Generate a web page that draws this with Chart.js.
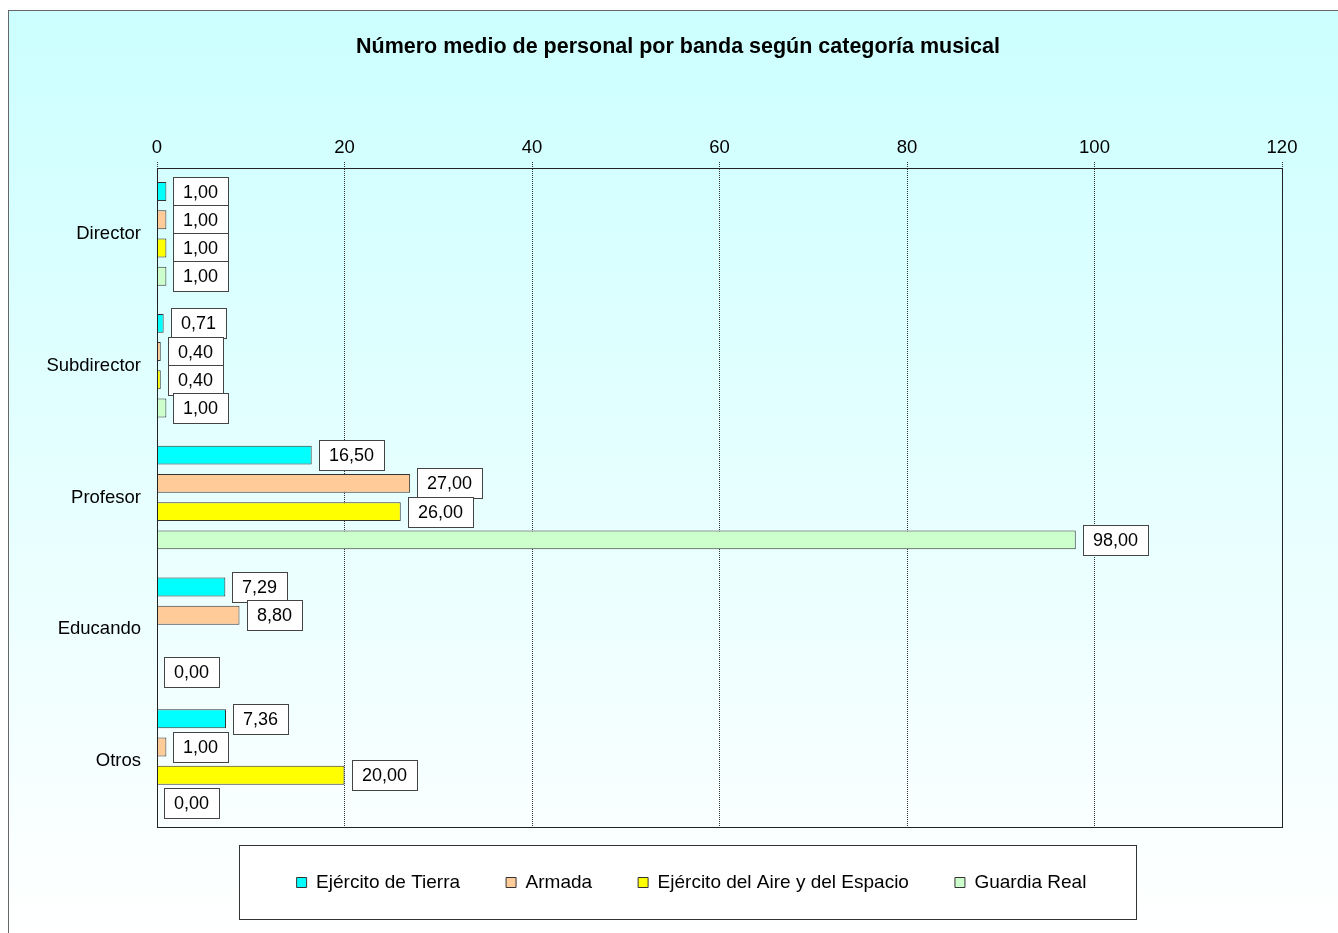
<!DOCTYPE html>
<html>
<head>
<meta charset="utf-8">
<script src="https://cdn.jsdelivr.net/npm/chart.js@4"></script>
<style>
body { margin: 0; background: #fff; overflow: hidden; }
#wrap { position: absolute; left: 8px; top: 10px; width: 1330px; height: 923px; border-left: 1px solid #666; border-top: 1px solid #666; }
</style>
</head>
<body>
<div id="wrap"><canvas id="myChart" width="1330" height="923"></canvas></div>
<script>
const categories = ['Director', 'Subdirector', 'Profesor', 'Educando', 'Otros'];
const seriesNames = ['Ejército de Tierra', 'Armada', 'Ejército del Aire y del Espacio', 'Guardia Real'];
const tierra = [1.00, 0.71, 16.50, 7.29, 7.36];
const armada = [1.00, 0.40, 27.00, 8.80, 1.00];
const aire = [1.00, 0.40, 26.00, null, 20.00];
const guardia = [1.00, 1.00, 98.00, 0.00, 0.00];
const colors = ['#00ffff', '#ffcc99', '#ffff00', '#ccffcc'];

const FONT = 'Liberation Sans, Arial, sans-serif';

// centra titulo y leyenda como en el original
const layoutFix = {
    id: 'layoutFix',
    afterLayout(chart) {
        chart.titleBlock.left = 65;
        chart.legend.left = 92;
    }
};

// fondo degradado + recuadro de la leyenda
const backPlugin = {
    id: 'backPlugin',
    beforeDraw(chart) {
        const ctx = chart.ctx;
        const g = ctx.createLinearGradient(0, 0, 0, chart.height);
        g.addColorStop(0, '#ccffff');
        g.addColorStop(1, '#ffffff');
        ctx.save();
        ctx.fillStyle = g;
        ctx.fillRect(0, 0, chart.width, chart.height);

        const boxes = chart.legend.legendHitBoxes;
        if (boxes && boxes.length) {
            const first = boxes[0];
            const last = boxes[boxes.length - 1];
            const cy = first.top + first.height / 2;
            const x0 = Math.round(first.left - 58) + 0.5;
            const x1 = Math.round(last.left + last.width + 50) + 0.5;
            const y0 = Math.round(cy - 38) + 0.5;
            const y1 = Math.round(cy + 36) + 0.5;
            ctx.fillStyle = '#fff';
            ctx.fillRect(x0, y0, x1 - x0, y1 - y0);
            ctx.strokeStyle = '#333';
            ctx.lineWidth = 1;
            ctx.strokeRect(x0, y0, x1 - x0, y1 - y0);
        }
        ctx.restore();
    },
    afterDatasetsDraw(chart) {
        const a = chart.chartArea;
        const ctx = chart.ctx;
        ctx.save();
        ctx.strokeStyle = '#222';
        ctx.lineWidth = 1;
        ctx.strokeRect(Math.round(a.left) + 0.5, Math.round(a.top) + 0.5, Math.round(a.right - a.left), Math.round(a.bottom - a.top));
        ctx.restore();
    }
};

// etiquetas con recuadro blanco
const labelPlugin = {
    id: 'boxLabels',
    afterDatasetsDraw(chart) {
        const ctx = chart.ctx;
        ctx.save();
        ctx.font = '18px ' + FONT;
        ctx.textBaseline = 'middle';
        ctx.textAlign = 'left';
        chart.data.datasets.forEach((ds, i) => {
            chart.getDatasetMeta(i).data.forEach((bar, j) => {
                const v = ds.data[j];
                if (v === null || v === undefined) return;
                const txt = v.toFixed(2).replace('.', ',');
                const w = Math.round(ctx.measureText(txt).width + 20);
                const h = 30;
                const x = Math.round(bar.x + 7);
                const y = Math.round(bar.y - h / 2);
                ctx.fillStyle = '#fff';
                ctx.fillRect(x, y, w, h);
                ctx.strokeStyle = '#444';
                ctx.lineWidth = 1;
                ctx.strokeRect(x + 0.5, y + 0.5, w, h);
                ctx.fillStyle = '#000';
                ctx.fillText(txt, x + 10, y + h / 2 + 1);
            });
        });
        ctx.restore();
    }
};

const allData = [tierra, armada, aire, guardia];
const datasets = seriesNames.map((name, i) => ({
    label: name,
    data: allData[i],
    backgroundColor: colors[i],
    borderColor: '#333',
    borderWidth: 1,
    barPercentage: 0.67,
    categoryPercentage: 0.857
}));

var ctx = document.getElementById('myChart').getContext('2d');
new Chart(ctx, {
    type: 'bar',
    data: {
        labels: categories,
        datasets: datasets
    },
    plugins: [layoutFix, backPlugin, labelPlugin],
    options: {
        indexAxis: 'y',
        responsive: false,
        animation: false,
        layout: {
            padding: { left: 0, right: 57, top: 0, bottom: 32 }
        },
        scales: {
            x: {
                position: 'top',
                min: 0,
                max: 120,
                ticks: {
                    stepSize: 20,
                    color: '#000',
                    padding: 3,
                    font: { family: FONT, size: 18.5 }
                },
                grid: {
                    color: '#333',
                    tickLength: 6,
                    tickBorderDash: [1, 1]
                },
                border: {
                    color: '#000',
                    dash: [1, 1]
                }
            },
            y: {
                ticks: {
                    color: '#000',
                    padding: 16,
                    font: { family: FONT, size: 18.5 }
                },
                grid: {
                    display: true,
                    color: 'rgba(0,0,0,0)',
                    drawTicks: false
                },
                border: {
                    color: '#000'
                },
                afterFit(scale) {
                    scale.width = 148;
                }
            }
        },
        plugins: {
            title: {
                display: true,
                text: 'Número medio de personal por banda según categoría musical',
                color: '#000',
                font: { family: FONT, size: 21.5, weight: 'bold' },
                padding: { top: 23, bottom: 74 }
            },
            legend: {
                position: 'bottom',
                fullSize: false,
                labels: {
                    boxWidth: 10,
                    boxHeight: 10,
                    padding: 46,
                    color: '#000',
                    font: { family: FONT, size: 19 }
                }
            },
            tooltip: { enabled: false }
        }
    }
});
</script>
</body>
</html>
